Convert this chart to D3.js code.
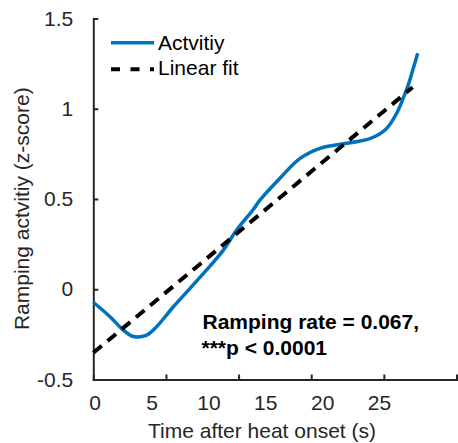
<!DOCTYPE html>
<html>
<head>
<meta charset="utf-8">
<script src="https://cdn.jsdelivr.net/npm/d3@7"></script>
<style>
  html, body { margin: 0; padding: 0; background: #fff; }
  svg { display: block; }
  text { font-family: "Liberation Sans", Arial, Helvetica, sans-serif; }
</style>
</head>
<body>
<svg id="chart" width="458" height="443"></svg>
<script>
// ---- data ----
const time = [0, 1.15, 2.06, 2.75, 3.68, 4.36, 5.51, 6.66, 7.80, 8.95, 9.87, 11.01, 11.47, 12.85, 14.23, 15.6, 16.98, 18.36, 19.27, 20.19, 20.88, 21.34, 21.68, 22.02, 22.33];
const activity = [-0.072, -0.152, -0.226, -0.262, -0.254, -0.207, -0.097, 0.005, 0.107, 0.217, 0.328, 0.442, 0.494, 0.615, 0.725, 0.781, 0.803, 0.821, 0.842, 0.891, 0.975, 1.06, 1.132, 1.223, 1.307];
const fitTime = [0, 21.98];
const fitValue = [-0.352, 1.119];
const xTickMarks = [0, 5, 10, 15, 20, 25];
const xTickLabels = [0, 5, 10, 15, 20, 25];
const yTicks = [-0.5, 0, 0.5, 1, 1.5];
const legendLabels = ["Actvitiy", "Linear fit"];
const annotation = ["Ramping rate = 0.067,", "***p < 0.0001"];
const xTitle = "Time after heat onset (s)";
const yTitle = "Ramping actvitiy (z-score)";

const axisColor = "#262626";
const blue = "#0072BD";

const svg = d3.select("#chart");

const x = d3.scaleLinear().domain([0, 25]).range([93.3, 456.5]);
const xLab = d3.scaleLinear().domain([0, 25]).range([94.7, 379]);
const y = d3.scaleLinear().domain([-0.5, 1.5]).range([379.5, 18.5]);

// x axis (tick marks)
const gx = svg.append("g").attr("transform", `translate(0,${y(-0.5)})`)
  .call(d3.axisBottom(x).tickValues(xTickMarks).tickSizeInner(-5).tickSizeOuter(0).tickFormat(""));
gx.select(".domain").attr("stroke", axisColor).attr("stroke-width", 2).attr("stroke-linecap", "square");
gx.selectAll(".tick line").attr("stroke", axisColor).attr("stroke-width", 2);

// x axis labels
const gxl = svg.append("g").attr("transform", `translate(0,${y(-0.5)})`)
  .call(d3.axisBottom(xLab).tickValues(xTickLabels).tickSize(0).tickPadding(15.5).tickFormat(d => String(d)));
gxl.select(".domain").remove();
gxl.selectAll("text").attr("font-size", 21).attr("fill", axisColor)
  .style("font-family", '"Liberation Sans", Arial, Helvetica, sans-serif');

// y axis
const gy = svg.append("g").attr("transform", `translate(${x(0)},0)`)
  .call(d3.axisLeft(y).tickValues(yTicks).tickSizeInner(-5).tickSizeOuter(0).tickPadding(20).tickFormat(d => String(d)));
gy.select(".domain").attr("stroke", axisColor).attr("stroke-width", 2).attr("stroke-linecap", "square");
gy.selectAll(".tick line").attr("stroke", axisColor).attr("stroke-width", 2);
gy.selectAll("text").attr("font-size", 21).attr("fill", axisColor)
  .style("font-family", '"Liberation Sans", Arial, Helvetica, sans-serif');

// axis titles
svg.append("text").attr("x", 262).attr("y", 438).attr("text-anchor", "middle")
  .attr("font-size", 21).attr("fill", axisColor).text(xTitle);
svg.append("text").attr("transform", "translate(29,208.7) rotate(-90)").attr("text-anchor", "middle")
  .attr("font-size", 21).attr("fill", axisColor).text(yTitle);

// activity curve
const actData = time.map((t, i) => [t, activity[i]]);
svg.append("path").datum(actData)
  .attr("d", d3.line().x(d => x(d[0])).y(d => y(d[1])).curve(d3.curveCatmullRom.alpha(0.5)))
  .attr("fill", "none").attr("stroke", blue).attr("stroke-width", 3.5);

// linear fit
const fitData = fitTime.map((t, i) => [t, fitValue[i]]);
svg.append("path").datum(fitData)
  .attr("d", d3.line().x(d => x(d[0])).y(d => y(d[1])))
  .attr("fill", "none").attr("stroke", "#000").attr("stroke-width", 4)
  .attr("stroke-dasharray", "11,7.5");

// legend
const leg = svg.append("g");
leg.append("line").attr("x1", 111).attr("x2", 154).attr("y1", 42.7).attr("y2", 42.7)
  .attr("stroke", blue).attr("stroke-width", 3.5);
leg.append("text").attr("x", 158).attr("y", 50).attr("font-size", 21).attr("fill", "#000").text(legendLabels[0]);
leg.append("line").attr("x1", 111).attr("x2", 154).attr("y1", 69.3).attr("y2", 69.3)
  .attr("stroke", "#000").attr("stroke-width", 4).attr("stroke-dasharray", "9,10.5");
leg.append("text").attr("x", 158).attr("y", 74.5).attr("font-size", 21).attr("fill", "#000").text(legendLabels[1]);

// annotation
svg.append("text").attr("x", 202.5).attr("y", 329).attr("font-size", 21).attr("font-weight", "bold")
  .attr("fill", "#000").text(annotation[0]);
svg.append("text").attr("x", 201.5).attr("y", 355).attr("font-size", 21).attr("font-weight", "bold")
  .attr("fill", "#000").text(annotation[1]);
</script>
</body>
</html>
